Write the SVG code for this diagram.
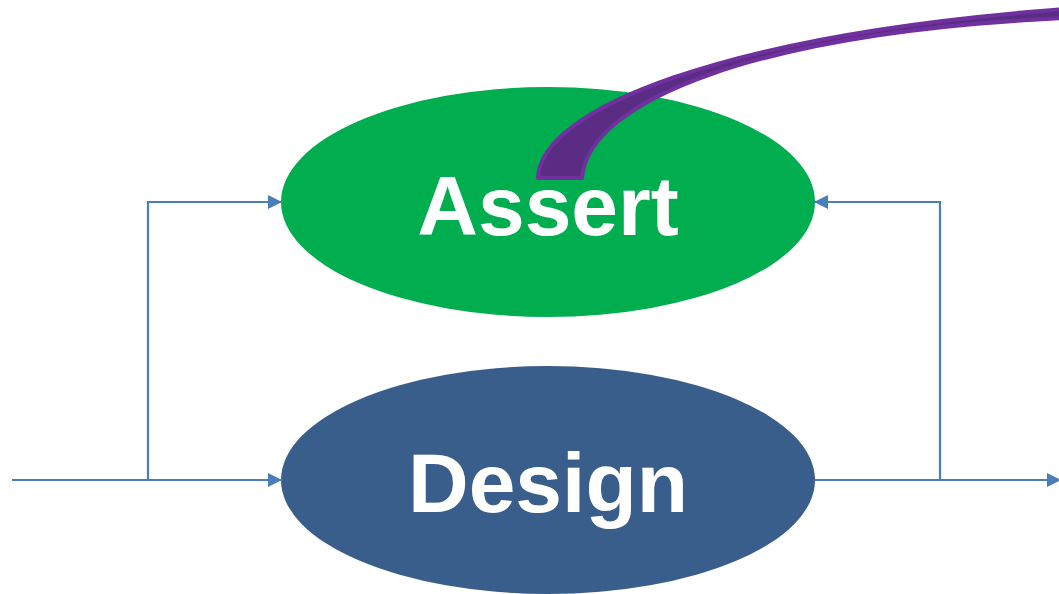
<svg xmlns="http://www.w3.org/2000/svg" width="1059" height="594" viewBox="0 0 1059 594">
<style>
.conn{fill:none;stroke:#4a7ebb;stroke-width:2.2}
.lbl{font-family:"Liberation Sans",Arial,sans-serif;font-weight:bold;font-size:84px;fill:#fff;text-anchor:middle}
</style>
<defs>
<marker id="ah" viewBox="0 0 10 10" refX="10" refY="5" markerWidth="14" markerHeight="14" markerUnits="userSpaceOnUse" orient="auto">
<path d="M0,0L10,5L0,10z" fill="#4a7ebb"/>
</marker>
</defs>
<rect width="1059" height="594" fill="#fff"/>
<g id="assert">
<ellipse cx="548" cy="202" rx="267" ry="115" fill="#00ad4f"/>
<text class="lbl" x="548" y="235">Assert</text>
</g>
<g id="design">
<ellipse cx="548" cy="480" rx="267" ry="114" fill="#3a5e8b"/>
<text class="lbl" x="548" y="512">Design</text>
</g>
<g id="connectors">
<path class="conn" d="M12,480H282" marker-end="url(#ah)"/>
<path class="conn" d="M148,480V202H282" marker-end="url(#ah)"/>
<path class="conn" d="M815,480H1061" marker-end="url(#ah)"/>
<path class="conn" d="M940,480V202H814" marker-end="url(#ah)"/>
</g>
<g id="callout">
<path d="M538,178 C540,110 720,35 1065,9 L1065,18 C760,32 588,100 582,178 Z" fill="#5b2c83" stroke="#7030a0" stroke-width="4" stroke-linejoin="round"/>
</g>
</svg>
